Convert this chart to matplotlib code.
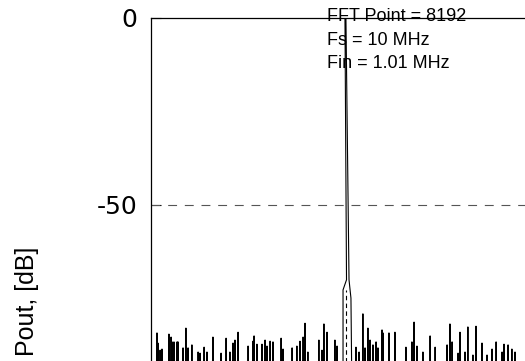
import numpy as np
import matplotlib
matplotlib.use("Agg")
import matplotlib.pyplot as plt

# noise spur frequencies (MHz) and levels (dB)
spur_f = [0.031, 0.036, 0.047, 0.057, 0.093, 0.104, 0.109, 0.119, 0.135, 0.140,
          0.166, 0.181, 0.192, 0.212, 0.244, 0.254, 0.275, 0.290, 0.321, 0.363,
          0.389, 0.409, 0.425, 0.435, 0.451, 0.503, 0.528, 0.534, 0.549, 0.575,
          0.591, 0.601, 0.617, 0.632, 0.674, 0.684, 0.731, 0.756, 0.772, 0.788,
          0.798, 0.813, 0.870, 0.886, 0.896, 0.912, 0.953, 0.964, 0.984,
          1.062, 1.078, 1.098, 1.109, 1.124, 1.135, 1.150, 1.166, 1.176, 1.197,
          1.202, 1.233, 1.264, 1.321, 1.352, 1.363, 1.378, 1.409, 1.446, 1.472,
          1.534, 1.549, 1.560, 1.591, 1.601, 1.627, 1.642, 1.668, 1.684, 1.715,
          1.741, 1.767, 1.788, 1.819, 1.829, 1.850, 1.870, 1.886]
spur_db = [-84.2, -86.9, -88.8, -88.5, -84.5, -85.3, -86.6, -86.6, -86.6, -86.6,
           -88.2, -82.9, -88.2, -87.4, -89.3, -89.6, -88.0, -89.3, -85.3, -89.6,
           -85.6, -89.3, -86.9, -86.1, -84.0, -87.7, -86.4, -85.0, -87.2, -87.2,
           -86.1, -87.7, -86.4, -86.6, -85.6, -88.5, -88.2, -87.7, -86.4, -85.3,
           -81.6, -89.3, -86.1, -88.8, -81.8, -84.0, -86.1, -87.7, -85.3,
           -88.0, -89.3, -79.1, -88.2, -82.9, -86.1, -87.4, -86.6, -88.2, -83.4,
           -84.2, -84.2, -84.0, -88.0, -86.6, -81.3, -87.7, -89.3, -85.0, -88.0,
           -87.4, -81.8, -86.6, -89.6, -84.0, -89.3, -82.6, -90.1, -82.4, -86.9,
           -90.1, -88.5, -86.6, -89.3, -87.2, -87.4, -88.5, -89.3]

# fundamental tone outline
peak_f = [0.995, 0.995, 1.013, 1.005, 1.010, 1.026, 1.036, 1.041]
peak_db = [-100, -72.7, -70.0, 0, 0, -70.0, -74.9, -100]

floor_db = -100
fin = 1.01

# spectrum path: floor -> spur -> floor
xs, ys = [], []
for f, d in zip(spur_f, spur_db):
    if abs(f - fin) < 0.03:
        continue
    xs += [f - 0.0015, f, f + 0.0015]
    ys += [floor_db, d, floor_db]
# insert the tone in frequency order
xs = np.array(xs)
ys = np.array(ys)
idx = np.searchsorted(xs, peak_f[0])
xs = np.concatenate([xs[:idx], peak_f, xs[idx:]])
ys = np.concatenate([ys[:idx], peak_db, ys[idx:]])

plt.rcParams['font.family'] = ['Liberation Sans', 'DejaVu Sans']

fig = plt.figure(figsize=(5.25, 3.61), dpi=100)
ax = fig.add_axes([151/525, (361-392)/361, 386/525, 374/361])

ax.plot(xs, ys, color='black', lw=0.8)
ax.vlines(fin, floor_db, -72.7, colors='black', linestyles=(0, (4, 3)), lw=0.8)
ax.axhline(-50, color='#555555', lw=0.8, linestyle=(0, (8, 7)))

ax.set_xlim(0, 2)
ax.set_ylim(-100, 0)
ax.set_yticks([0, -50])
ax.set_yticklabels(['0', '-50'])
ax.set_xticks([])
ax.tick_params(axis='y', direction='in', length=7, width=0.8, pad=10)
for lab in ax.get_yticklabels():
    lab.set_fontfamily('DejaVu Sans')
    lab.set_fontsize(18)
for s in ax.spines.values():
    s.set_linewidth(0.9)

ax.text(0.91, 2.6, 'FFT Point = 8192\nFs = 10 MHz\nFin = 1.01 MHz',
        fontsize=13, va='top', ha='left', linespacing=1.5, clip_on=False)

fig.text(27/525, 1 - 301/361, 'Pout, [dB]', rotation=90, fontsize=18,
         ha='center', va='center')

fig.savefig('out.png', dpi=100)
